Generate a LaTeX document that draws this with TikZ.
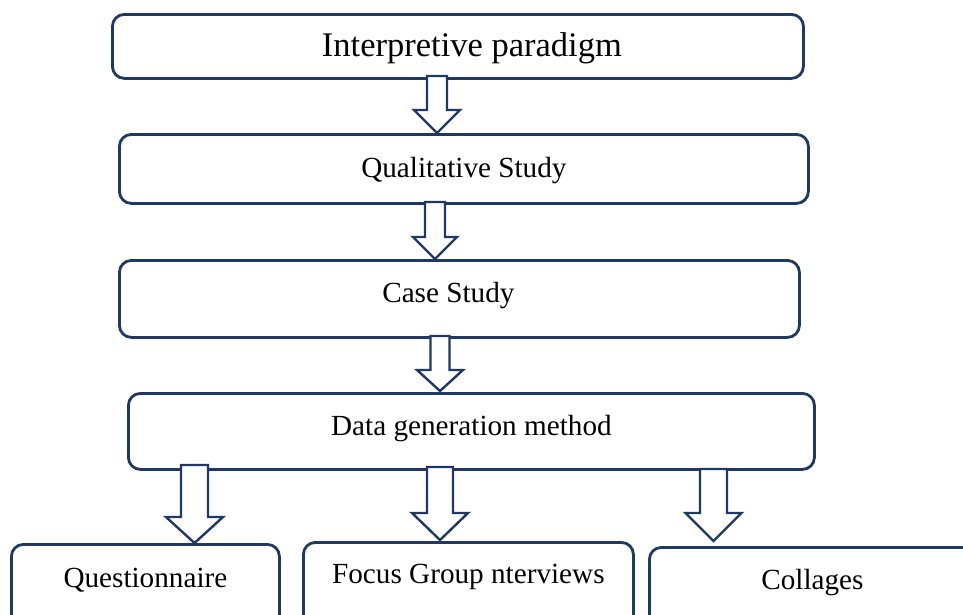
\documentclass[tikz,border=0pt]{standalone}
\usepackage{fontspec}
\setmainfont{Liberation Serif}
\definecolor{navy}{RGB}{31,56,100}
\tikzset{
  box/.style={draw=navy, line width=2.8pt, rounded corners=12pt, inner sep=0pt,
    font=\fontsize{29.2}{35}\selectfont, anchor=north west},
  arr/.style={draw=navy, fill=white, line width=2.4pt, line join=miter}
}
% cx, top, shaft half width, head half width, head start, tip
\newcommand\blkarrow[6]{%
  \draw[arr] ({#1-#3},#2) -- ({#1+#3},#2) -- ({#1+#3},#5) -- ({#1+#4},#5)
    -- (#1,#6) -- ({#1-#4},#5) -- ({#1-#3},#5) -- cycle;}
\begin{document}
\begin{tikzpicture}[x=1pt,y=-1pt]
\useasboundingbox (0,0) rectangle (963,614);
\clip (0,0) rectangle (963,614);
\node[box, minimum width=691pt, text height=42pt, text depth=22pt, font=\fontsize{34.5}{40}\selectfont] (b1) at (111,13) {\hspace*{28pt}Interpretive paradigm};
\node[box, minimum width=689pt, text height=43pt, text depth=26pt] (b2) at (118,133) {Qualitative Study};
\node[box, minimum width=680pt, text height=42pt, text depth=35pt] (b3) at (118,259) {Case Study\hspace*{22pt}};
\node[box, minimum width=686pt, text height=42pt, text depth=34pt] (b4) at (127,392) {Data generation method};
\node[box, minimum width=268pt, text height=43pt, text depth=40pt] (q) at (10,543) {Questionnaire};
\node[box, minimum width=330pt, text height=41pt, text depth=44pt] (f) at (302,541) {Focus Group nterviews};
\node[box, minimum width=326pt, text height=42pt, text depth=38pt] (c) at (648,546) {Collages};
\blkarrow{437}{76}{10}{23}{110}{133}
\blkarrow{435}{202}{10}{22}{237}{259}
\blkarrow{440}{336}{9.5}{23}{370}{391}
\blkarrow{194.5}{465}{13.5}{28.5}{517}{543}
\blkarrow{440}{467}{13}{28}{513}{540}
\blkarrow{713.5}{469}{13.5}{28}{513}{541}
\end{tikzpicture}
\end{document}
